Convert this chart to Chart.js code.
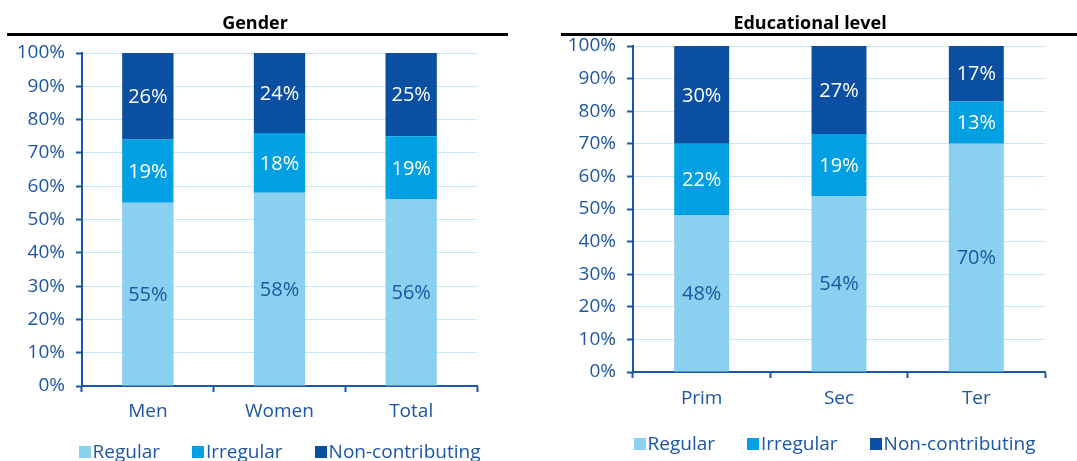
<!DOCTYPE html>
<html><head><meta charset="utf-8">
<script src="https://cdn.jsdelivr.net/npm/chart.js@4/dist/chart.umd.min.js"></script>
<style>
html,body{margin:0;padding:0;background:#fff;width:1077px;height:461px;overflow:hidden;font-family:"Open Sans",sans-serif}
.box{position:absolute;top:0;height:461px}
.title{position:absolute;font-weight:bold;font-size:18px;color:#000;white-space:nowrap;transform:translateX(-50%);line-height:18px}
.rule{position:absolute;height:3px;background:#000;top:33px}
</style></head><body>
<div class="box" style="left:0;width:540px"><canvas id="c1"></canvas></div>
<div class="box" style="left:540px;width:537px"><canvas id="c2"></canvas></div>
<div class="title" style="left:255px;top:13px">Gender</div>
<div class="rule" style="left:7px;width:501px"></div>
<div class="title" style="left:810px;top:13px">Educational level</div>
<div class="rule" style="left:561px;width:516px"></div>
<script>
const genderCategories = ['Men', 'Women', 'Total'];
const genderRegular = [55, 58, 56];
const genderIrregular = [19, 18, 19];
const genderNonContributing = [26, 24, 25];

const eduCategories = ['Prim', 'Sec', 'Ter'];
const eduRegular = [48, 54, 70];
const eduIrregular = [22, 19, 13];
const eduNonContributing = [30, 27, 17];

const seriesNames = ['Regular', 'Irregular', 'Non-contributing'];

const COL_REG = '#8ad1f1';
const COL_IRR = '#00a0e3';
const COL_NON = '#0b4fa3';
const AXIS = '#1b57a5';
const TXT = '#1d56a3';
const GRID = '#c6e7f7';
const FONT = '"Open Sans", sans-serif';

const dataLabelPlugin = {
  id: 'segLabels',
  afterDatasetsDraw(chart) {
    const ctx = chart.ctx;
    ctx.save();
    ctx.font = '20px ' + FONT;
    ctx.textAlign = 'center';
    ctx.textBaseline = 'middle';
    chart.data.datasets.forEach((ds, i) => {
      const meta = chart.getDatasetMeta(i);
      meta.data.forEach((el, j) => {
        const v = ds.data[j];
        ctx.fillStyle = i === 0 ? TXT : '#ffffff';
        ctx.fillText(v + '%', el.x, (el.y + el.base) / 2 + 1);
      });
    });
    ctx.restore();
  }
};

const legendPlugin = {
  id: 'customLegend',
  afterDraw(chart, args, opts) {
    const ctx = chart.ctx, ca = chart.chartArea;
    ctx.save();
    ctx.font = '19px ' + FONT;
    ctx.textBaseline = 'middle';
    ctx.textAlign = 'left';
    const box = 12, gapText = 2, gapItem = 32;
    const items = chart.data.datasets.map(d => ({ text: d.label, color: d.backgroundColor, w: ctx.measureText(d.label).width }));
    const total = items.reduce((s, it) => s + box + gapText + it.w, 0) + gapItem * (items.length - 1);
    let x = (ca.left + ca.right) / 2 - total / 2 + (opts.dx || 0);
    const y = ca.bottom + opts.dy;
    items.forEach(it => {
      ctx.fillStyle = it.color;
      ctx.fillRect(Math.round(x), Math.round(y - box / 2), box, box);
      ctx.fillStyle = TXT;
      ctx.fillText(it.text, x + box + gapText, y + 1);
      x += box + gapText + it.w + gapItem;
    });
    ctx.restore();
  }
};

function makeChart(id, cats, reg, irr, non, cfg) {
  return new Chart(document.getElementById(id), {
    type: 'bar',
    data: {
      labels: cats,
      datasets: [
        { label: seriesNames[0], data: reg, backgroundColor: COL_REG },
        { label: seriesNames[1], data: irr, backgroundColor: COL_IRR },
        { label: seriesNames[2], data: non, backgroundColor: COL_NON }
      ]
    },
    options: {
      responsive: true,
      maintainAspectRatio: false,
      animation: false,
      datasets: { bar: { categoryPercentage: 1, barPercentage: cfg.barPct } },
      layout: { padding: { top: cfg.top, left: 0, right: cfg.right, bottom: cfg.bottom } },
      plugins: {
        legend: { display: false },
        tooltip: { enabled: false },
        customLegend: { dx: cfg.legendDx, dy: cfg.legendDy }
      },
      scales: {
        x: {
          stacked: true,
          afterFit(s) { s.height = 40; },
          border: { display: true, color: AXIS, width: 2 },
          grid: { display: true, drawOnChartArea: false, drawTicks: true, tickLength: 6, tickColor: AXIS, tickWidth: 2, offset: true },
          ticks: { color: TXT, font: { family: FONT, size: 19 }, padding: cfg.xPad, maxRotation: 0 }
        },
        y: {
          stacked: true,
          min: 0, max: 100,
          afterFit(s) { s.width = cfg.yWidth; },
          border: { display: true, color: AXIS, width: 2 },
          grid: { color: GRID, lineWidth: 1, tickColor: AXIS, tickWidth: 2, tickLength: 6 },
          ticks: { stepSize: 10, color: TXT, font: { family: FONT, size: 19 }, padding: 11, callback: v => v + '%' }
        }
      }
    },
    plugins: [dataLabelPlugin, legendPlugin]
  });
}

makeChart('c1', genderCategories, genderRegular, genderIrregular, genderNonContributing,
  { top: 53, right: 63, bottom: 35, yWidth: 82, barPct: 0.39, xPad: 8, legendDx: 0, legendDy: 65.5 });
makeChart('c2', eduCategories, eduRegular, eduIrregular, eduNonContributing,
  { top: 46, right: 32, bottom: 49, yWidth: 93, barPct: 0.40, xPad: 9, legendDx: -4.5, legendDy: 71.5 });
</script>
</body></html>
